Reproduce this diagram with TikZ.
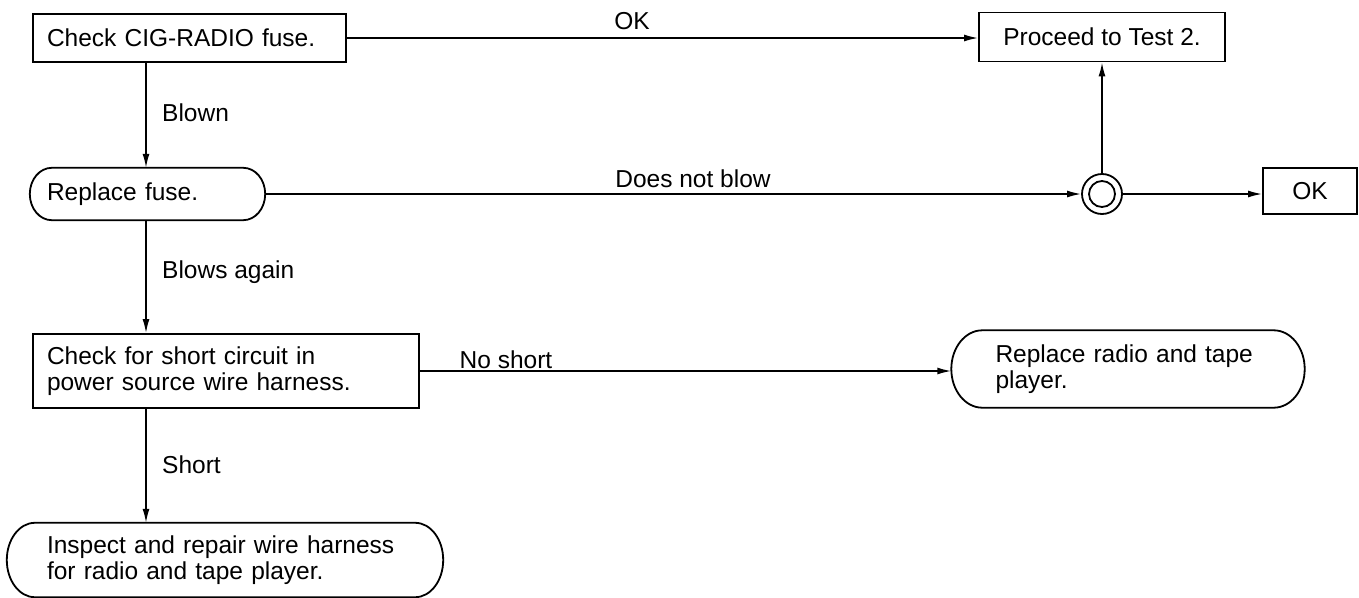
\documentclass[tikz,border=0pt]{standalone}
\usepackage{fontspec}
\setmainfont{Liberation Sans}
\usetikzlibrary{arrows.meta,calc}
\tikzset{
  boxline/.style={line width=1.8pt},
  txt/.style={font=\fontsize{24.5}{26}\selectfont},
  sqbox/.style={txt,draw,boxline,rectangle,align=left,inner ysep=2pt},
  rdbox/.style={txt,rectangle,align=left,inner ysep=2pt},
  conn/.style={line width=1.6pt,-{Latex[length=14pt,width=7pt]}},
  lbl/.style={txt,inner sep=0pt},
}
\newcommand\drawstadium[2]{%
  \draw[boxline] let \p1=(#1.north west), \p2=(#1.south west), \n1={abs(\y1-\y2)/2} in
    ([xshift=#2pt]#1.north west) -- ([xshift=-#2pt]#1.north east)
    arc[start angle=90,end angle=-90,x radius=#2pt,y radius=\n1]
    -- ([xshift=#2pt]#1.south west)
    arc[start angle=270,end angle=90,x radius=#2pt,y radius=\n1] -- cycle;}
\begin{document}
\begin{tikzpicture}[x=1pt,y=-1pt]
\useasboundingbox (0,0) rectangle (1359,597);
% nodes
\node[sqbox,text width=285pt,inner xsep=14pt,minimum height=48pt] (n1) at (189.5,38) {Check CIG-RADIO fuse.};
\node[sqbox,align=center,minimum width=246pt,minimum height=49pt] (proceed) at (1102,37) {Proceed to Test 2.};
\node[rdbox,text width=201pt,inner xsep=17pt,minimum height=52pt] (fuse) at (147.5,194) {Replace fuse.};
\node[circle,draw,boxline,minimum size=40pt,inner sep=0pt] (jn) at (1102,194) {};
\draw[boxline] (jn.center) circle[radius=13pt];
\node[sqbox,align=center,minimum width=94pt,minimum height=46pt] (okbox) at (1310,191) {OK};
\node[sqbox,text width=358pt,inner xsep=14pt,minimum height=74pt] (n3) at (226,371) {Check for short circuit in\\power source wire harness.};
\node[rdbox,text width=265pt,inner xsep=44pt,minimum height=77pt] (radio) at (1128,369) {Replace radio and tape\\player.};
\node[rdbox,text width=356pt,inner xsep=40pt,minimum height=74pt] (insp) at (225,560) {Inspect and repair wire harness\\for radio and tape player.};
\drawstadium{fuse}{22}
\drawstadium{radio}{31}
\drawstadium{insp}{28}
\coordinate (spine) at (146,0);
% connectors
\draw[conn] (n1.east) -- (n1.east -| proceed.west);
\draw[conn] (n1.south -| spine) -- (fuse.north -| spine);
\draw[conn] (fuse.east) -- (jn.west);
\draw[conn] (jn.north) -- (proceed.south);
\draw[conn] (jn.east) -- (jn.east -| okbox.west);
\draw[conn] (fuse.south -| spine) -- (n3.north -| spine);
\draw[conn] (n3.east) -- (n3.east -| radio.west);
\draw[conn] (n3.south -| spine) -- (insp.north -| spine);
% labels
\node[lbl] (lok) at (632,21) {OK};
\node[lbl,anchor=west] (lblown) at (162,113) {Blown};
\node[lbl] (ldnb) at (693,179) {Does not blow};
\node[lbl,anchor=west] (lba) at (162,272) {Blows again};
\node[lbl] (lns) at (506,360) {No short};
\node[lbl,anchor=west] (lsh) at (162,465) {Short};
\end{tikzpicture}
\end{document}
